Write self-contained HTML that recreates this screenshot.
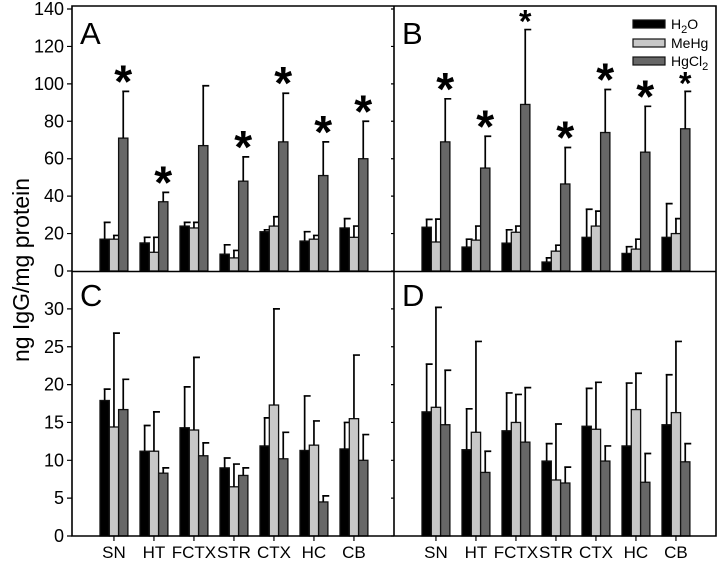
<!DOCTYPE html>
<html><head><meta charset="utf-8"><style>
body{margin:0;background:#fff;}
svg{display:block;font-family:"Liberation Sans",Arial,sans-serif;}
</style></head><body>
<svg id="chart" width="720" height="564" xmlns="http://www.w3.org/2000/svg"></svg>
<script>
const categories=["SN","HT","FCTX","STR","CTX","HC","CB"];
const seriesNames=["H2O","MeHg","HgCl2"];
// panel A
const aH2O=[17,15,24,9,21,16,23], aH2OErr=[26,18,26,14,22,21,28];
const aMeHg=[17,10,23,7,24,17,18], aMeHgErr=[19,18,26,11,29,19,24];
const aHg=[71,37,67,48,69,51,60], aHgErr=[96,42,99,61,95,69,80];
const aStar=[1,1,0,1,1,1,1];
// panel B
const bH2O=[23.4,12.8,14.9,4.8,18,9.4,18], bH2OErr=[27.6,17,22,7,33,13,36];
const bMeHg=[15.5,16.5,20.7,10.6,24,11.7,20], bMeHgErr=[27.7,24,24,13.8,32,17,28];
const bHg=[69,55,89,46.5,74,63.5,76], bHgErr=[92,72,129,66,97,88,96];
const bStar=[1,1,2,1,1,1,2];
// panel C
const cH2O=[17.9,11.2,14.3,9.0,11.9,11.3,11.5], cH2OErr=[19.4,14.6,19.7,10.3,15.6,18.5,15.0];
const cMeHg=[14.4,11.2,14.0,6.5,17.3,12.0,15.5], cMeHgErr=[26.8,16.4,23.6,9.5,30.0,15.2,23.9];
const cHg=[16.7,8.3,10.6,8.0,10.2,4.5,10.0], cHgErr=[20.7,9.0,12.3,9.0,13.7,5.3,13.4];
// panel D
const dH2O=[16.4,11.4,13.9,9.9,14.5,11.9,14.7], dH2OErr=[22.7,16.8,18.9,12.2,19.5,20.2,21.3];
const dMeHg=[17.0,13.7,15.0,7.4,14.1,16.7,16.3], dMeHgErr=[30.2,25.7,18.7,14.8,20.3,21.5,25.7];
const dHg=[14.7,8.4,12.4,7.0,9.9,7.1,9.8], dHgErr=[21.9,11.2,19.6,9.1,11.9,10.9,12.2];
const topTicks=[0,20,40,60,80,100,120,140];
const botTicks=[0,5,10,15,20,25,30];

const NS="http://www.w3.org/2000/svg";
const svg=document.getElementById('chart');
function mk(t,a,p){const e=document.createElementNS(NS,t);for(const k in a)e.setAttribute(k,a[k]);(p||svg).appendChild(e);return e;}
const fills=["#000","#c8c8c8","#676767"];
const L1=72,L2=394,R=716,TOP=6,MID=271.5,BOT=536;
const yTop=v=>271-v*(262/140);
const yBot=v=>536-v*7.57;
const bw=9.3;
function gx(left,i){return left+28+40*i;}

function panel(left,y,sets,stars,label,name){
  const g=mk('g',{});
  
  
  sets.forEach((s,si)=>{
    s[0].forEach((v,i)=>{
      const x=gx(left,i)+si*bw;
      const r=mk('rect',{x:x,y:y(v),width:bw,height:y(0)-y(v),fill:fills[si],stroke:'#111','stroke-width':1.3},g);
      
      
      const cx=x+bw/2,ey=y(s[1][i]);
      const l=mk('path',{d:`M${cx},${y(v)}V${ey}M${cx-1},${ey}H${cx+6}`,stroke:'#000','stroke-width':1.7,fill:'none'},g);
      
      
    });
  });
  if(stars){
    stars.forEach((st,i)=>{
      if(!st)return;
      const cx=gx(left,i)+2.5*bw;
      const ey=y(sets[2][1][i]);
      const fs=st===2?32:46;
      const t=mk('text',{x:cx,y:st===2?ey+3:ey+6,'text-anchor':'middle','font-size':fs,'font-weight':'bold'},g);
      t.textContent='*';
      
      
    });
  }
  const lt=mk('text',{x:left+8,y:label==='A'||label==='B'?44:306,'font-size':31},g);
  lt.textContent=label;
  
  
}
panel(L1,yTop,[[aH2O,aH2OErr],[aMeHg,aMeHgErr],[aHg,aHgErr]],aStar,'A','panel-a');
panel(L2,yTop,[[bH2O,bH2OErr],[bMeHg,bMeHgErr],[bHg,bHgErr]],bStar,'B','panel-b');
panel(L1,yBot,[[cH2O,cH2OErr],[cMeHg,cMeHgErr],[cHg,cHgErr]],null,'C','panel-c');
panel(L2,yBot,[[dH2O,dH2OErr],[dMeHg,dMeHgErr],[dHg,dHgErr]],null,'D','panel-d');

const fr=mk('path',{d:`M${L1},${TOP}H${R}V${BOT}H${L1}Z M${L1},${MID}H${R} M${L2},${TOP}V${BOT}`,fill:'none',stroke:'#000','stroke-width':1.6});



topTicks.forEach(v=>{
  const yy=yTop(v);
  mk('path',{d:`M${L1-5},${yy}H${L1}M${L2-3},${yy}H${L2}`,stroke:'#000','stroke-width':1.2});
  const t=mk('text',{x:L1-8,y:yy+6,'text-anchor':'end','font-size':18});
  t.textContent=v;
  
  
});
botTicks.forEach(v=>{
  const yy=yBot(v);
  mk('path',{d:`M${L1-5},${yy}H${L1}M${L2-3},${yy}H${L2}`,stroke:'#000','stroke-width':1.2});
  const t=mk('text',{x:L1-8,y:yy+6,'text-anchor':'end','font-size':18});
  t.textContent=v;
  
  
});
[L1,L2].forEach(left=>{
  categories.forEach((c,i)=>{
    const cx=gx(left,i)+1.5*bw;
    mk('path',{d:`M${cx},${BOT}V${BOT+5}`,stroke:'#000','stroke-width':1.2});
    const t=mk('text',{x:cx,y:558,'text-anchor':'middle','font-size':17});
    t.textContent=c;
    
    
  });
});
const yt=mk('text',{x:0,y:0,'font-size':23,'text-anchor':'middle',transform:'translate(29,270) rotate(-90)'});
yt.textContent='ng IgG/mg protein';


const leg=mk('g',{});


const legY=[20,39,57];
const legLabels=['H<tspan dy="4" font-size="11">2</tspan><tspan dy="-4">O</tspan>','MeHg','HgCl<tspan dy="4" font-size="11">2</tspan>'];
legY.forEach((yy,k)=>{
  mk('rect',{x:633,y:yy,width:32,height:8,fill:fills[k],stroke:'#111','stroke-width':1.2},leg);
  const t=mk('text',{x:671,y:yy+9,'font-size':14},leg);
  t.innerHTML=legLabels[k];
  
  
});
</script>
</body></html>
